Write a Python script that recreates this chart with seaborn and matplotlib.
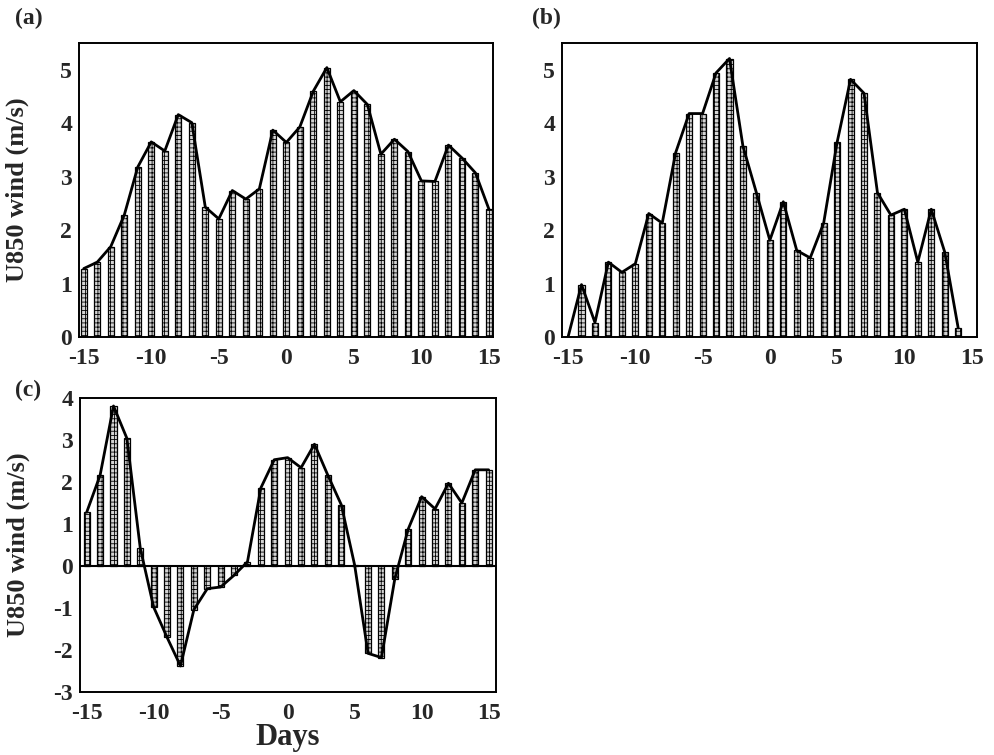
import numpy as np
import pandas as pd
import matplotlib
matplotlib.use("Agg")
import matplotlib.pyplot as plt
import seaborn as sns
from matplotlib.ticker import MultipleLocator

# Composite U850 wind (m/s) for days -15..15
days = list(range(-15, 16))

u850_a = [1.28, 1.40, 1.69, 2.28, 3.18, 3.65, 3.48, 4.16, 4.01, 2.43,
          2.21, 2.74, 2.58, 2.77, 3.87, 3.64, 3.93, 4.60, 5.04, 4.40,
          4.61, 4.35, 3.42, 3.70, 3.47, 2.92, 2.91, 3.59, 3.35, 3.07,
          2.39]

u850_b = [0.00, 0.98, 0.27, 1.40, 1.21, 1.37, 2.31, 2.13, 3.45, 4.18,
          4.18, 4.94, 5.21, 3.57, 2.70, 1.81, 2.53, 1.62, 1.48, 2.13,
          3.64, 4.82, 4.56, 2.70, 2.28, 2.39, 1.40, 2.39, 1.59, 0.17,
          np.nan]

u850_c = [1.28, 2.16, 3.81, 3.04, 0.42, -0.98, -1.70, -2.38, -1.04, -0.54,
          -0.50, -0.22, 0.10, 1.86, 2.53, 2.58, 2.34, 2.90, 2.16, 1.46,
          0.02, -2.08, -2.18, -0.30, 0.88, 1.65, 1.36, 1.97, 1.50, 2.29,
          2.29]

panel_labels = ["(a)", "(b)", "(c)"]
ylabel_text = "U850 wind (m/s)"
xlabel_text = "Days"

sns.set_style("white")
plt.rcParams["font.family"] = ["Liberation Serif", "DejaVu Serif"]
plt.rcParams["font.weight"] = "bold"
plt.rcParams["axes.unicode_minus"] = False
plt.rcParams["hatch.color"] = "#3a3a3a"
plt.rcParams["hatch.linewidth"] = 0.6

fig = plt.figure(figsize=(9.95, 7.55), dpi=100)
W, H = 995, 755


def add_axes(left, top, right, bottom):
    return fig.add_axes([left / W, (H - bottom) / H, (right - left) / W, (bottom - top) / H])


ax_a = add_axes(79, 43, 493, 337)
ax_b = add_axes(562, 43, 977, 337)
ax_c = add_axes(80, 398, 496, 692)


def draw_panel(ax, values, ylim, xlim):
    df = pd.DataFrame({"day": days, "u": values}).dropna()
    sns.barplot(data=df, x="day", y="u", native_scale=True, width=0.45,
                color="#d4d4d4", saturation=1, errorbar=None,
                edgecolor="black", linewidth=0.9, hatch="++++", ax=ax)
    sns.lineplot(data=df, x="day", y="u", color="black", linewidth=2.0, ax=ax)
    ax.set_xlim(*xlim)
    ax.set_ylim(*ylim)
    ax.set_xlabel("")
    ax.set_ylabel("")
    ax.xaxis.set_major_locator(MultipleLocator(5))
    ax.xaxis.set_minor_locator(MultipleLocator(2.5))
    ax.yaxis.set_major_locator(MultipleLocator(1))
    ax.yaxis.set_minor_locator(MultipleLocator(0.5))
    ax.tick_params(axis="both", which="major", direction="in", length=6,
                   width=1.2, labelsize=17, top=False, right=False)
    ax.tick_params(axis="both", which="minor", direction="in", length=4,
                   width=1.0, top=False, right=False)
    ax.tick_params(axis="x", which="major", pad=8)
    ax.tick_params(axis="y", which="major", pad=5)
    for lab in ax.get_xticklabels() + ax.get_yticklabels():
        lab.set_fontweight("bold")
    for sp in ax.spines.values():
        sp.set_visible(True)
        sp.set_linewidth(1.4)
        sp.set_color("black")


draw_panel(ax_a, u850_a, (0, 5.5), (-15.35, 15.3))
draw_panel(ax_b, u850_b, (0, 5.5), (-15.45, 15.4))
draw_panel(ax_c, u850_c, (-3, 4), (-15.5, 15.55))
ax_c.axhline(0, color="black", linewidth=1.5, zorder=3)

for ax in (ax_a, ax_c):
    ax.set_ylabel(ylabel_text, fontsize=19, fontweight="bold")
    ax.yaxis.set_label_coords(-0.121, 0.5)

ax_c.set_xlabel(xlabel_text, fontsize=22, fontweight="bold")
ax_c.xaxis.set_label_coords(0.5, -0.105)

fig.text(15 / W, 1 - 18 / H, panel_labels[0], fontsize=17, fontweight="bold", va="center", ha="left")
fig.text(532 / W, 1 - 18 / H, panel_labels[1], fontsize=17, fontweight="bold", va="center", ha="left")
fig.text(15 / W, 1 - 390 / H, panel_labels[2], fontsize=17, fontweight="bold", va="center", ha="left")

fig.savefig("out.png", dpi=100)
